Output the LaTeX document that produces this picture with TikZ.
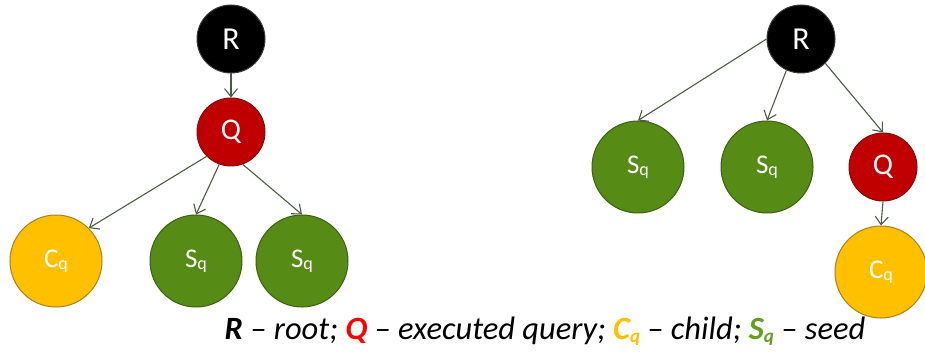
\documentclass[tikz,border=0pt]{standalone}
\usepackage{fontspec}
\setmainfont{Carlito}
\usetikzlibrary{arrows.meta}
\definecolor{edgecol}{HTML}{4E5A44}
\definecolor{rootfill}{HTML}{000000}
\definecolor{rootline}{HTML}{3A3A3A}
\definecolor{qfill}{HTML}{C00000}
\definecolor{qline}{HTML}{7A1010}
\definecolor{sfill}{HTML}{568C16}
\definecolor{sline}{HTML}{3C5F12}
\definecolor{cfill}{HTML}{FFC000}
\definecolor{cline}{HTML}{A88020}
\definecolor{legred}{HTML}{FF0000}
\definecolor{legyel}{HTML}{FFC000}
\definecolor{leggreen}{HTML}{62A01E}
\tikzset{
  vertex/.style={circle, draw, line width=1pt, inner sep=0pt, text=white},
  rootnode/.style={vertex, fill=rootfill, draw=rootline, minimum size=68pt,
    font=\fontsize{32}{32}\selectfont},
  querynode/.style={vertex, fill=qfill, draw=qline, minimum size=68pt,
    font=\fontsize{30}{30}\selectfont},
  seednode/.style={vertex, fill=sfill, draw=sline, minimum size=92pt,
    font=\fontsize{27}{27}\selectfont},
  childnode/.style={vertex, fill=cfill, draw=cline, minimum size=92pt,
    font=\fontsize{27}{27}\selectfont},
  link/.style={draw=edgecol, line width=1.1pt,
    -{Straight Barb[length=8pt,width=13pt,line width=1.1pt]}},
}
\newcommand{\sub}[1]{\raisebox{-0.15ex}{\fontsize{18}{18}\selectfont #1}}
\newcommand{\legsub}[1]{\raisebox{-0.2ex}{\fontsize{19}{19}\selectfont #1}}
\begin{document}
\begin{tikzpicture}[x=1pt,y=-1pt]
\useasboundingbox (0,0) rectangle (925,352);

% left tree
\node[rootnode]  (lR)  at (231,39)  {R};
\node[querynode] (lQ)  at (231,132) {Q};
\node[childnode] (lC)  at (56,261)  {C\sub{q}};
\node[seednode]  (lS1) at (196,261) {S\sub{q}};
\node[seednode]  (lS2) at (302,261) {S\sub{q}};

\draw[link] (lR.south) -- (lQ.north);
\draw[link] (lQ.225) -- (lC.45);
\draw[link] (lQ.250) -- (lS1.north);
\draw[link] (lQ.290) -- (lS2.north);

% right tree
\node[rootnode]  (rR)  at (801,39)  {R};
\node[seednode]  (rS1) at (638,167) {S\sub{q}};
\node[seednode]  (rS2) at (767,167) {S\sub{q}};
\node[querynode] (rQ)  at (883,167) {Q};
\node[childnode] (rC)  at (881,272) {C\sub{q}};

\draw[link] (rR.west) -- (rS1.north);
\draw[link] (rR.245) -- (rS2.north);
\draw[link] (rR.-45) -- (rQ.north);
\draw[link] (rQ.south) -- (rC.north);

% legend
\node[font=\fontsize{32.5}{32.5}\selectfont\itshape, inner sep=0pt, anchor=base] (legend) at (545,339)
  {\textbf{R} -- root; \textbf{\color{legred}Q} -- executed query;
   \textbf{\color{legyel}C\legsub{q}} -- child; \textbf{\color{leggreen}S\legsub{q}} -- seed};
\end{tikzpicture}
\end{document}
